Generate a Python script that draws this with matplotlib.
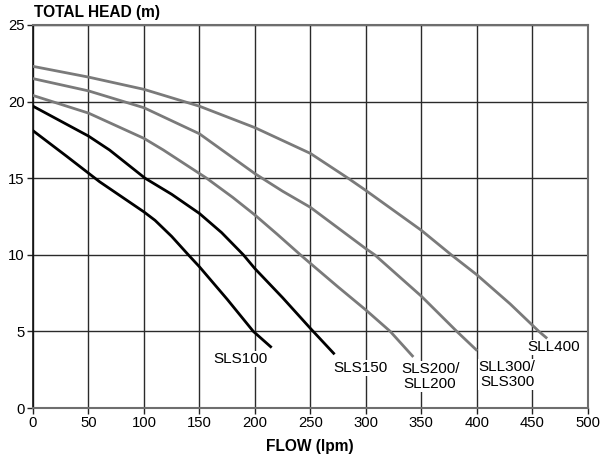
import matplotlib
matplotlib.use("Agg")
import matplotlib.pyplot as plt

plt.rcParams['font.family'] = ['Liberation Sans', 'DejaVu Sans']

# Data (flow in lpm, head in m)
sls100_q = [0, 30, 60, 100, 110, 125, 140, 150, 175, 198.6, 214.2]
sls100_h = [18.1, 16.45, 14.77, 12.8, 12.25, 11.2, 10.0, 9.22, 7.1, 5.0, 4.0]

sls150_q = [0, 50, 69, 101, 125, 150, 170, 189.6, 200, 225, 250, 271]
sls150_h = [19.7, 17.75, 16.84, 15.0, 13.95, 12.7, 11.45, 10.0, 9.1, 7.2, 5.2, 3.57]

sls200_q = [0, 50, 100, 117.5, 156.5, 180, 200, 220, 241, 250, 275, 300, 322, 342]
sls200_h = [20.4, 19.25, 17.6, 16.84, 15.0, 13.75, 12.6, 11.35, 10.0, 9.44, 7.9, 6.4, 5.0, 3.4]

sll300_q = [0, 50, 100, 150, 200, 225, 250, 275, 300, 308, 350, 382, 399.5]
sll300_h = [21.5, 20.7, 19.6, 17.9, 15.3, 14.15, 13.1, 11.75, 10.4, 10.0, 7.3, 5.0, 3.8]

sll400_q = [0, 50, 100, 150, 200, 250, 284, 300, 350, 377, 400, 430, 456, 462.5]
sll400_h = [22.3, 21.6, 20.8, 19.7, 18.3, 16.62, 15.0, 14.2, 11.6, 10.0, 8.7, 6.8, 5.0, 4.6]

labels = ["SLS100", "SLS150", "SLS200/\nSLL200", "SLL300/\nSLS300", "SLL400"]
label_pos_q = [187, 295, 358, 427.5, 469]
label_pos_h = [3.2, 2.6, 2.05, 2.2, 3.96]

x_ticks = [0, 50, 100, 150, 200, 250, 300, 350, 400, 450, 500]
y_ticks = [0, 5, 10, 15, 20, 25]

fig = plt.figure(figsize=(6.09, 4.62), dpi=100)
ax = fig.add_axes([33 / 609, (462 - 408) / 462, (587.7 - 33) / 609, 383 / 462])

ax.set_xlim(0, 500)
ax.set_ylim(0, 25)
ax.set_xticks(x_ticks)
ax.set_yticks(y_ticks)
ax.tick_params(labelsize=10.7, length=4, width=1, color='#222222', pad=2)
ax.grid(True, color='#2a2a2a', linewidth=1.0)
ax.set_axisbelow(True)
for side in ['top', 'right', 'bottom']:
    ax.spines[side].set_color('#6e6e6e')
    ax.spines[side].set_linewidth(1.5)
ax.spines['left'].set_color('#111111')
ax.spines['left'].set_linewidth(1.2)

black = '#000000'
gray = '#7a7a7a'
ax.plot(sls100_q, sls100_h, color=black, lw=2.0, zorder=3)
ax.plot(sls150_q, sls150_h, color=black, lw=2.0, zorder=3)
ax.plot(sls200_q, sls200_h, color=gray, lw=2.0, zorder=3)
ax.plot(sll300_q, sll300_h, color=gray, lw=2.0, zorder=3)
ax.plot(sll400_q, sll400_h, color=gray, lw=2.0, zorder=3)

for lab, q, h in zip(labels, label_pos_q, label_pos_h):
    ax.text(q, h, lab, fontsize=11, ha='center', va='center', linespacing=1.1,
            bbox=dict(facecolor='white', edgecolor='none', pad=0.5), zorder=4)

fig.text(33.5 / 609, 1 - 12 / 462, "TOTAL HEAD (m)", fontsize=11.2, fontweight='bold',
         ha='left', va='center')
fig.text(309.5 / 609, 1 - 446 / 462, "FLOW (lpm)", fontsize=11.2, fontweight='bold',
         ha='center', va='center')

fig.savefig("out.png", dpi=100)
